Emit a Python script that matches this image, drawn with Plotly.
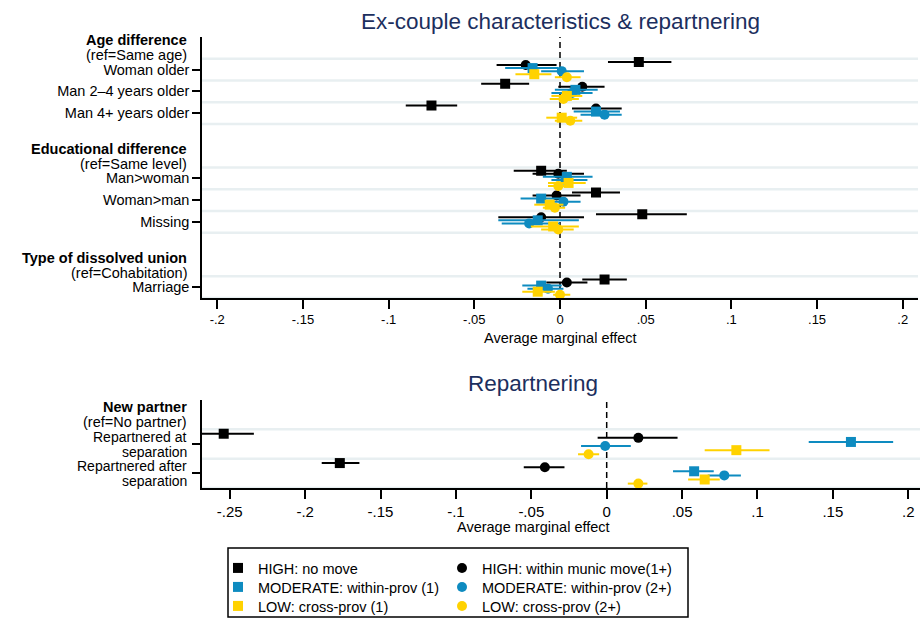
import plotly.graph_objects as go

W, H = 922, 620
FONT = "Liberation Sans, Arial, sans-serif"

# ---------------- data ----------------
top_labels = ["Woman older", "Man 2–4 years older", "Man 4+ years older",
              "Man>woman", "Woman>man", "Missing", "Marriage"]
top_pos = [1, 2, 3, 6, 7, 8, 11]
top_head_bold = ["Age difference", "Educational difference", "Type of dissolved union"]
top_head_ref = ["(ref=Same age)", "(ref=Same level)", "(ref=Cohabitation)"]
top_head_pos = [0, 5, 10]

bot_labels_l1 = ["Repartnered at", "Repartnered after"]
bot_labels_l2 = ["separation", "separation"]
bot_pos = [1, 2]
bot_head_bold = ["New partner"]
bot_head_ref = ["(ref=No partner)"]
bot_head_pos = [0]

series_names = ["HIGH: no move", "HIGH: within munic move(1+)",
                "MODERATE: within-prov (1)", "MODERATE: within-prov (2+)",
                "LOW: cross-prov (1)", "LOW: cross-prov (2+)"]

# first 7 values: top panel rows, last 2: bottom panel rows
high_nomove_est = [0.046, -0.032, -0.075, -0.011, 0.021, 0.048, 0.026, -0.254, -0.177]
high_nomove_lo  = [0.028, -0.046, -0.090, -0.027, 0.007, 0.021, 0.013, -0.272, -0.189]
high_nomove_hi  = [0.065, -0.018, -0.060, 0.004, 0.035, 0.074, 0.039, -0.234, -0.164]

high_munic_est = [-0.020, 0.013, 0.021, -0.001, -0.002, -0.011, 0.004, 0.021, -0.041]
high_munic_lo  = [-0.037, -0.001, 0.007, -0.016, -0.016, -0.036, -0.008, -0.006, -0.055]
high_munic_hi  = [-0.002, 0.026, 0.036, 0.014, 0.012, 0.014, 0.016, 0.047, -0.028]

mod_prov1_est = [-0.016, 0.009, 0.021, 0.004, -0.011, -0.013, -0.011, 0.162, 0.058]
mod_prov1_lo  = [-0.032, -0.003, 0.008, -0.010, -0.023, -0.036, -0.022, 0.134, 0.044]
mod_prov1_hi  = [-0.001, 0.022, 0.035, 0.019, 0.001, 0.011, 0.001, 0.190, 0.071]

mod_prov2_est = [0.001, 0.007, 0.026, 0.003, 0.002, -0.018, -0.007, -0.001, 0.078]
mod_prov2_lo  = [-0.011, -0.005, 0.012, -0.005, -0.007, -0.034, -0.019, -0.017, 0.067]
mod_prov2_hi  = [0.014, 0.019, 0.036, 0.016, 0.012, 0.000, 0.002, 0.016, 0.089]

low_cross1_est = [-0.015, 0.004, 0.001, 0.005, -0.006, -0.004, -0.013, 0.086, 0.065]
low_cross1_lo  = [-0.026, -0.005, -0.008, -0.007, -0.015, -0.017, -0.022, 0.065, 0.054]
low_cross1_hi  = [-0.005, 0.013, 0.010, 0.015, 0.002, 0.011, -0.003, 0.108, 0.075]

low_cross2_est = [0.004, 0.002, 0.006, -0.001, -0.003, -0.001, 0.000, -0.012, 0.021]
low_cross2_lo  = [-0.003, -0.006, -0.003, -0.007, -0.010, -0.011, -0.004, -0.019, 0.014]
low_cross2_hi  = [0.012, 0.011, 0.013, 0.005, 0.003, 0.008, 0.006, -0.005, 0.027]

top_ticks = [-0.2, -0.15, -0.1, -0.05, 0, 0.05, 0.1, 0.15, 0.2]
top_ticktext = ["-.2", "-.15", "-.1", "-.05", "0", ".05", ".1", ".15", ".2"]
bot_ticks = [-0.25, -0.2, -0.15, -0.1, -0.05, 0, 0.05, 0.1, 0.15, 0.2]
bot_ticktext = ["-.25", "-.2", "-.15", "-.1", "-.05", "0", ".05", ".1", ".15", ".2"]

# ---------------- styling ----------------
BLACK, BLUE, YELLOW = "#000000", "#0e8bc0", "#ffd200"
colors = [BLACK, BLACK, BLUE, BLUE, YELLOW, YELLOW]
symbols = ["square", "circle", "square", "circle", "square", "circle"]
offsets = [-0.35, -0.21, -0.07, 0.07, 0.21, 0.35]
legend_ids = ["legend", "legend2", "legend3", "legend4", "legend5", "legend6"]
legend_x_px = [218, 442] * 3
legend_y_px = [568, 568, 587, 587, 606, 606]

est_all = [high_nomove_est, high_munic_est, mod_prov1_est, mod_prov2_est, low_cross1_est, low_cross2_est]
lo_all = [high_nomove_lo, high_munic_lo, mod_prov1_lo, mod_prov2_lo, low_cross1_lo, low_cross2_lo]
hi_all = [high_nomove_hi, high_munic_hi, mod_prov1_hi, mod_prov2_hi, low_cross1_hi, low_cross2_hi]

def px_x(p):
    return p / W

def px_y(p):
    return 1 - p / H

fig = go.Figure()
ntop = len(top_pos)
for i, name in enumerate(series_names):
    est, lo, hi = est_all[i], lo_all[i], hi_all[i]
    for panel in (0, 1):
        if panel == 0:
            xs, l, h = est[:ntop], lo[:ntop], hi[:ntop]
            ys = [p + offsets[i] for p in top_pos]
            xa, ya = "x", "y"
        else:
            xs, l, h = est[ntop:], lo[ntop:], hi[ntop:]
            ys = [p + offsets[i] for p in bot_pos]
            xa, ya = "x2", "y2"
        fig.add_trace(go.Scatter(
            x=xs, y=ys, mode="markers", name=name,
            xaxis=xa, yaxis=ya,
            marker=dict(symbol=symbols[i], size=10, color=colors[i], line=dict(width=0)),
            error_x=dict(type="data", symmetric=False,
                         array=[b - a for a, b in zip(xs, h)],
                         arrayminus=[a - b for a, b in zip(xs, l)],
                         color=colors[i], thickness=2, width=0),
            showlegend=(panel == 0), legend=legend_ids[i], legendgroup=name,
        ))

axis_common = dict(showline=True, linecolor="black", linewidth=1.5, ticks="outside",
                   tickcolor="black", tickwidth=1.5, zeroline=False, showgrid=False)

top_x_dom = [px_x(202), px_x(918)]
bot_x_dom = [px_x(202), px_x(920)]
top_y_dom = [px_y(298), px_y(37)]
bot_y_dom = [px_y(488), px_y(400)]

layout_kw = dict(
    width=W, height=H, margin=dict(l=0, r=0, t=0, b=0, autoexpand=False),
    paper_bgcolor="white", plot_bgcolor="white",
    font=dict(family=FONT, color="black"),
    xaxis=dict(domain=top_x_dom, range=[-0.2089, 0.2089], anchor="y",
               tickvals=top_ticks, ticktext=top_ticktext, ticklen=9,
               tickfont=dict(size=13), **axis_common),
    yaxis=dict(domain=top_y_dom, range=[11.5, -0.5], anchor="x",
               tickvals=top_pos, ticktext=top_labels, ticklen=8,
               tickfont=dict(size=14.5), **axis_common),
    xaxis2=dict(domain=bot_x_dom, range=[-0.2684, 0.2078], anchor="y2",
                tickvals=bot_ticks, ticktext=bot_ticktext, ticklen=9,
                tickfont=dict(size=15), **axis_common),
    yaxis2=dict(domain=bot_y_dom, range=[2.5, -0.5], anchor="x2",
                tickvals=bot_pos, ticktext=["" for _ in bot_pos], ticklen=8,
                **axis_common),
)
for lid, lx, ly in zip(legend_ids, legend_x_px, legend_y_px):
    layout_kw[lid] = dict(x=px_x(lx), y=px_y(ly), xanchor="left", yanchor="middle",
                          font=dict(size=14.5), bgcolor="rgba(0,0,0,0)", borderwidth=0)
fig.update_layout(**layout_kw)

shapes = []
# light gridlines at row boundaries
def boundaries(pos):
    s = set()
    for p in pos:
        s.add(p - 0.5)
        s.add(p + 0.5)
    return sorted(s)

for yv in boundaries(top_pos):
    shapes.append(dict(type="line", xref="x domain", yref="y", x0=0, x1=1, y0=yv, y1=yv,
                       line=dict(color="#e8eff1", width=2.5), layer="below"))
for yv in boundaries(bot_pos):
    shapes.append(dict(type="line", xref="x2 domain", yref="y2", x0=0, x1=1, y0=yv, y1=yv,
                       line=dict(color="#e8eff1", width=2.5), layer="below"))
# zero reference lines
shapes.append(dict(type="line", xref="x", yref="y domain", x0=0, x1=0, y0=0, y1=1,
                   line=dict(color="black", width=1.5, dash="6px,4px"), layer="below"))
shapes.append(dict(type="line", xref="x2", yref="y2 domain", x0=0, x1=0, y0=0, y1=1,
                   line=dict(color="black", width=1.5, dash="6px,4px"), layer="below"))
# legend box
shapes.append(dict(type="rect", xref="paper", yref="paper",
                   x0=px_x(228), x1=px_x(688), y0=px_y(617), y1=px_y(548),
                   line=dict(color="black", width=1.5), fillcolor="rgba(0,0,0,0)"))
fig.update_layout(shapes=shapes)

ann = []
TITLE_COLOR = "#1c2f5e"
ann.append(dict(text="Ex-couple characteristics & repartnering", xref="paper", yref="paper",
                x=px_x(560), y=px_y(21), xanchor="center", yanchor="middle", showarrow=False,
                font=dict(size=22.5, color=TITLE_COLOR)))
ann.append(dict(text="Repartnering", xref="paper", yref="paper",
                x=px_x(533), y=px_y(383), xanchor="center", yanchor="middle", showarrow=False,
                font=dict(size=22.5, color=TITLE_COLOR)))
ann.append(dict(text="Average marginal effect", xref="paper", yref="paper",
                x=px_x(560), y=px_y(338), xanchor="center", yanchor="middle", showarrow=False,
                font=dict(size=14.5)))
ann.append(dict(text="Average marginal effect", xref="paper", yref="paper",
                x=px_x(533), y=px_y(527), xanchor="center", yanchor="middle", showarrow=False,
                font=dict(size=14.5)))

def label_pair(l1, l2, yv, yref, bold, shift=7.5, size=14.5):
    t1 = f"<b>{l1}</b>" if bold else l1
    return [
        dict(text=t1, xref="paper", yref=yref, x=px_x(202), y=yv, xshift=-13, yshift=shift,
             xanchor="right", yanchor="middle", showarrow=False, font=dict(size=size)),
        dict(text=l2, xref="paper", yref=yref, x=px_x(202), y=yv, xshift=-13, yshift=-shift,
             xanchor="right", yanchor="middle", showarrow=False, font=dict(size=size)),
    ]

for b, r, p in zip(top_head_bold, top_head_ref, top_head_pos):
    ann += label_pair(b, r, p, "y", True)
for b, r, p in zip(bot_head_bold, bot_head_ref, bot_head_pos):
    ann += label_pair(b, r, p, "y2", True)
for l1, l2, p in zip(bot_labels_l1, bot_labels_l2, bot_pos):
    ann += label_pair(l1, l2, p, "y2", False, shift=7.5, size=14)

fig.update_layout(annotations=ann)

fig.write_html("out.html")
